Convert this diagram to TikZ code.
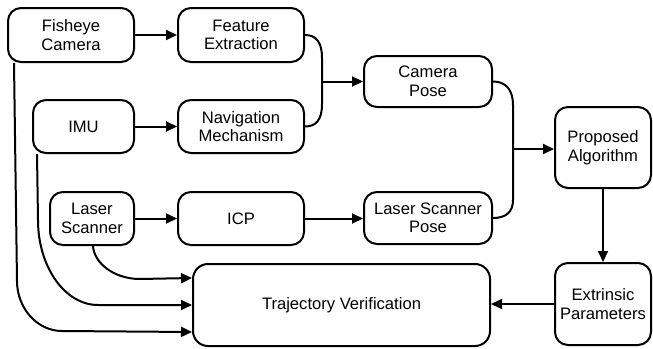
\documentclass[tikz,border=0pt]{standalone}
\usepackage{fontspec}
\setmainfont{Liberation Sans}
\usetikzlibrary{arrows.meta,calc}
\begin{document}
\begin{tikzpicture}[x=1pt,y=-1pt,
  box/.style={draw,line width=2pt,rounded corners=13pt,align=center,
    font=\fontsize{16.6}{18.5}\selectfont,inner sep=0pt},
  link/.style={line width=2pt,-{Triangle[length=11pt,width=10pt]}},
  wire/.style={line width=2pt}]
\useasboundingbox (0,0) rectangle (653,348);

% sensors
\node[box,minimum width=126pt,minimum height=54pt] (fish) at (71,35) {Fisheye\\Camera};
\node[box,minimum width=101pt,minimum height=53pt] (imu) at (83.5,126.5) {IMU};
\node[box,minimum width=84pt,minimum height=53pt] (ls) at (92,218.5) {Laser\\Scanner};

% processing
\node[box,minimum width=126pt,minimum height=54pt] (fe) at (241,35) {Feature\\Extraction};
\node[box,minimum width=126pt,minimum height=53pt] (nm) at (241,126.5) {Navigation\\Mechanism};
\node[box,minimum width=126pt,minimum height=53pt] (icp) at (241,218.5) {ICP};

% poses
\node[box,minimum width=128pt,minimum height=51pt] (cp) at (428,81.5) {Camera\\Pose};
\node[box,minimum width=128pt,minimum height=52pt] (lsp) at (428,218) {Laser Scanner\\Pose};

% calibration
\node[box,minimum width=96pt,minimum height=81pt] (pa) at (603,147.5) {Proposed\\Algorithm};
\node[box,minimum width=96pt,minimum height=82pt] (ep) at (603,304) {Extrinsic\\Parameters};
\node[box,rounded corners=15pt,minimum width=297pt,minimum height=82pt] (traj) at (341.5,305) {Trajectory Verification};

% straight flows
\draw[link] (fish) -- (fe);
\draw[link] (imu) -- (nm);
\draw[link] (ls) -- (icp);
\draw[link] (icp.east) -- (icp.east -| lsp.west);

% merge of feature extraction and navigation
\coordinate (m1) at (322,81.5);
\draw[wire] (fe.east) .. controls (316,35) and (322,42) .. (322,58) -- (322,104)
  .. controls (322,120) and (316,126.5) .. (nm.east);
\draw[link] (m1) -- (m1 -| cp.west);

% merge of the two poses
\coordinate (m2) at (513,149);
\draw[wire] (cp.east) .. controls (506,81.5) and (513,90) .. (513,105) -- (513,200)
  .. controls (513,212) and (506,218) .. (lsp.east);
\draw[link] (m2) -- (m2 -| pa.west);

\draw[link] (pa) -- (ep);
\draw[link] (ep.west) -- (ep.west -| traj.east);

% sensor data into trajectory verification
\draw[link] ($(fish.south west)+(7,0)$) -- (17,281) .. controls (17,308) and (37,331) .. (62,331)
  -- ($(traj.south west)+(0,-15)$);
\draw[link] ($(imu.south west)+(5,0)$) -- (38,220) .. controls (38,267) and (65,305) .. (98,305)
  -- (traj.west);
\draw[link] ($(ls.south west)+(44,0)$) .. controls (94,263) and (114,279) .. (140,279)
  -- ($(traj.north west)+(0,15)$);
\end{tikzpicture}
\end{document}
